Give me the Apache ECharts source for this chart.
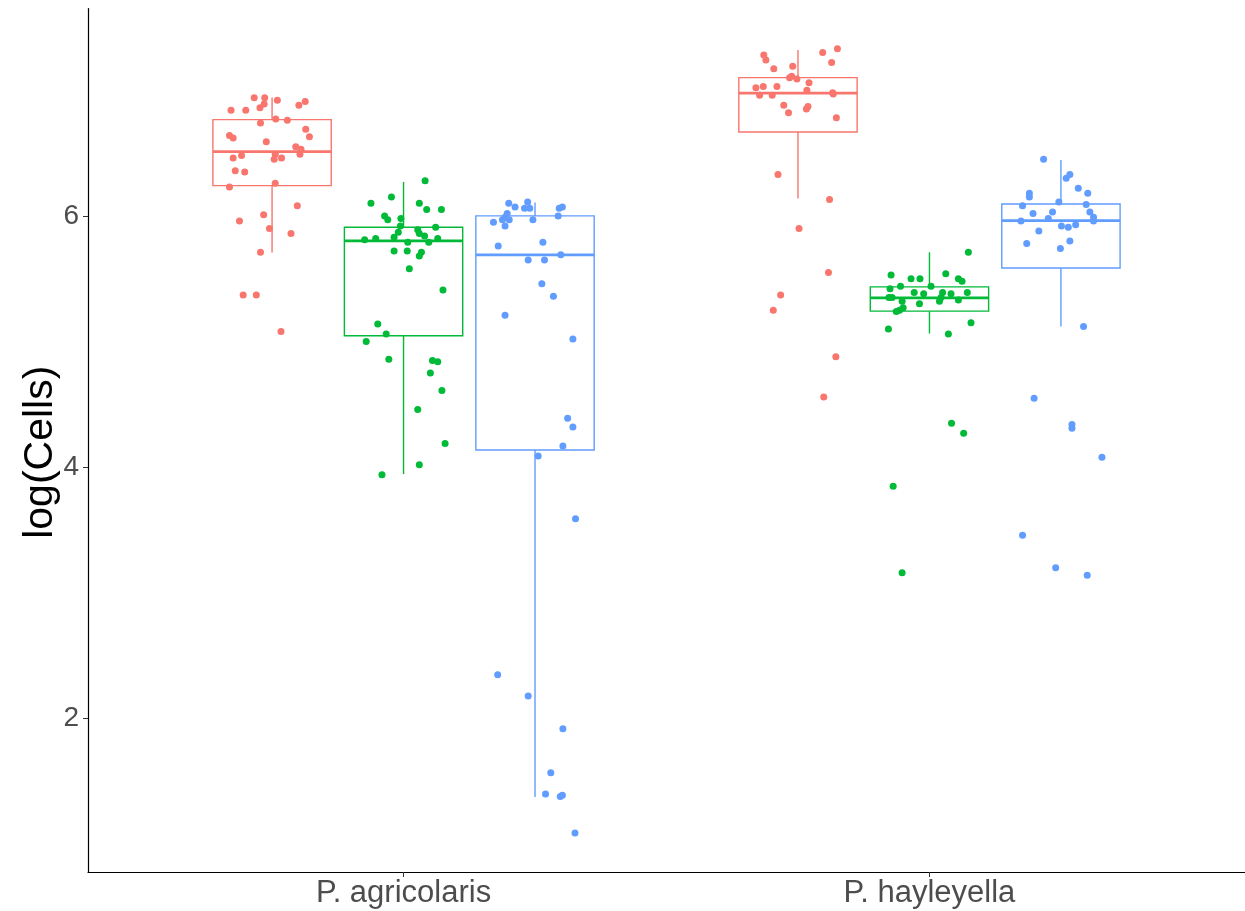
<!DOCTYPE html>
<html>
<head>
<meta charset="utf-8">
<script src="https://cdn.jsdelivr.net/npm/echarts@6/dist/echarts.min.js"></script>
<style>
html, body { margin: 0; padding: 0; background: #fff; }
#chart { width: 1245px; height: 911px; }
</style>
</head>
<body>
<div id="chart"></div>
<script>
const categories = ['P. agricolaris', 'P. hayleyella'];
const yTicks = [2, 4, 6];
const colors = ['#F8766D', '#00BA38', '#619CFF'];
const dodge = [-0.25, 0, 0.25];

// box stats per category: [lower whisker, q1, median, q3, upper whisker]
const redBox = [[5.708, 6.241, 6.511, 6.766, 6.941], [6.138, 6.668, 6.976, 7.100, 7.320]];
const greenBox = [[3.946, 5.046, 5.801, 5.910, 6.270], [5.064, 5.242, 5.348, 5.435, 5.711]];
const blueBox = [[1.377, 4.137, 5.690, 6.000, 6.106], [5.120, 5.586, 5.963, 6.095, 6.445]];

// raw points (value) and their horizontal jitter (in category units)
const redAgri = [6.94, 6.94, 6.92, 6.91, 6.88, 6.84, 6.84, 6.86, 6.89, 6.77, 6.76, 6.74, 6.69, 6.64, 6.62, 6.63, 6.59, 6.55, 6.53, 6.49, 6.49, 6.45, 6.46, 6.48, 6.46, 6.36, 6.35, 6.23, 6.26, 6.08, 6.01, 5.96, 5.90, 5.86, 5.71, 5.37, 5.37, 5.08];
const redAgriJit = [-0.034, -0.014, 0.010, 0.063, 0.051, -0.078, -0.050, -0.023, -0.015, 0.007, 0.029, -0.022, 0.064, -0.081, -0.074, 0.071, -0.011, 0.045, 0.055, 0.053, 0.006, 0.004, 0.018, -0.058, -0.074, -0.070, -0.052, -0.081, 0.006, 0.048, -0.016, -0.062, -0.005, 0.036, -0.022, -0.055, -0.030, 0.017];
const greenAgri = [6.28, 6.15, 6.10, 6.10, 6.05, 6.05, 6.00, 5.97, 5.98, 5.92, 5.87, 5.91, 5.89, 5.86, 5.84, 5.81, 5.82, 5.83, 5.79, 5.79, 5.82, 5.72, 5.72, 5.71, 5.68, 5.58, 5.41, 5.14, 5.06, 5.00, 4.86, 4.85, 4.84, 4.75, 4.61, 4.46, 4.19, 4.02, 3.94];
const greenAgriJit = [0.041, -0.023, -0.062, 0.030, 0.044, 0.072, -0.036, -0.030, -0.005, -0.006, -0.010, 0.061, 0.027, 0.030, 0.040, -0.074, -0.053, -0.018, 0.008, 0.048, 0.065, -0.018, 0.007, 0.034, 0.030, 0.011, 0.075, -0.049, -0.033, -0.071, -0.028, 0.055, 0.065, 0.051, 0.073, 0.027, 0.079, 0.030, -0.041];
const blueAgri = [6.10, 6.07, 6.11, 6.06, 6.06, 6.06, 6.07, 6.02, 5.99, 5.97, 5.97, 5.95, 5.92, 5.97, 6.00, 5.76, 5.79, 5.69, 5.65, 5.65, 5.46, 5.36, 5.21, 5.02, 4.39, 4.32, 4.17, 4.09, 3.59, 2.35, 2.18, 1.92, 1.57, 1.40, 1.38, 1.39, 1.09];
const blueAgriJit = [-0.050, -0.038, -0.014, -0.020, -0.010, 0.046, 0.052, -0.053, -0.057, -0.062, -0.049, -0.079, -0.057, -0.004, 0.044, -0.070, 0.015, 0.049, -0.013, 0.018, 0.013, 0.035, -0.057, 0.072, 0.062, 0.072, 0.053, 0.006, 0.077, -0.071, -0.013, 0.053, 0.030, 0.020, 0.048, 0.052, 0.076];

const redHay = [7.28, 7.24, 7.17, 7.19, 7.30, 7.33, 7.22, 7.10, 7.11, 7.09, 7.06, 7.02, 7.03, 7.03, 6.96, 6.96, 7.00, 6.98, 6.97, 6.88, 6.82, 6.85, 6.87, 6.78, 6.33, 6.13, 5.90, 5.55, 5.37, 5.25, 4.88, 4.56];
const redHayJit = [-0.065, -0.061, -0.046, -0.010, 0.047, 0.075, 0.064, -0.016, -0.012, -0.002, 0.021, -0.080, -0.066, -0.040, -0.073, -0.049, 0.017, 0.066, 0.067, -0.027, -0.018, 0.016, 0.019, 0.073, -0.038, 0.060, 0.002, 0.058, -0.033, -0.047, 0.072, 0.049];
const greenHay = [5.71, 5.53, 5.50, 5.50, 5.54, 5.50, 5.48, 5.42, 5.44, 5.44, 5.35, 5.35, 5.32, 5.39, 5.38, 5.39, 5.38, 5.39, 5.35, 5.32, 5.33, 5.30, 5.27, 5.25, 5.24, 5.10, 5.15, 5.06, 4.35, 4.27, 3.85, 3.16];
const greenHayJit = [0.074, -0.073, -0.035, -0.018, 0.031, 0.055, 0.062, -0.075, -0.055, 0.003, -0.077, -0.071, -0.052, -0.029, -0.011, 0.025, 0.041, 0.072, 0.022, 0.019, 0.055, -0.019, -0.050, -0.057, -0.063, -0.078, 0.079, 0.036, 0.042, 0.065, -0.069, -0.052];
const blueHay = [6.45, 6.30, 6.33, 6.18, 6.15, 6.22, 6.18, 6.11, 6.08, 6.09, 6.02, 6.03, 6.03, 5.99, 5.96, 5.96, 5.98, 5.92, 5.91, 5.93, 5.88, 5.78, 5.80, 5.74, 5.12, 4.55, 4.34, 4.31, 4.08, 3.46, 3.20, 3.14];
const blueHayJit = [-0.033, 0.010, 0.017, -0.060, -0.060, 0.033, 0.051, -0.004, -0.073, 0.048, -0.053, -0.016, 0.055, 0.062, 0.062, -0.076, -0.024, 0.001, 0.014, 0.028, -0.042, -0.065, 0.017, -0.001, 0.043, -0.051, 0.021, 0.021, 0.078, -0.073, -0.010, 0.050];

const boxes = [redBox, greenBox, blueBox];
const points = [
    [[redAgri, redAgriJit], [redHay, redHayJit]],
    [[greenAgri, greenAgriJit], [greenHay, greenHayJit]],
    [[blueAgri, blueAgriJit], [blueHay, blueHayJit]]
];

const halfBox = 0.1125;

function boxRenderer(color) {
    return function (params, api) {
        const x = api.value(0);
        const lo = api.coord([x, api.value(1)]);
        const q1 = api.coord([x - halfBox, api.value(2)]);
        const ml = api.coord([x - halfBox, api.value(3)]);
        const mr = api.coord([x + halfBox, api.value(3)]);
        const q3 = api.coord([x + halfBox, api.value(4)]);
        const hi = api.coord([x, api.value(5)]);
        const line = { stroke: color, lineWidth: 1.4 };
        return {
            type: 'group',
            children: [
                { type: 'line', shape: { x1: lo[0], y1: lo[1], x2: lo[0], y2: q1[1] }, style: line },
                { type: 'line', shape: { x1: hi[0], y1: hi[1], x2: hi[0], y2: q3[1] }, style: line },
                {
                    type: 'rect',
                    shape: { x: q1[0], y: q3[1], width: q3[0] - q1[0], height: q1[1] - q3[1] },
                    style: { fill: '#fff', stroke: color, lineWidth: 1.4 }
                },
                { type: 'line', shape: { x1: ml[0], y1: ml[1], x2: mr[0], y2: mr[1] }, style: { stroke: color, lineWidth: 2.8 } }
            ]
        };
    };
}

let series = [];
boxes.forEach((box, g) => {
    series.push({
        type: 'custom',
        renderItem: boxRenderer(colors[g]),
        encode: { x: 0, y: [1, 2, 3, 4, 5] },
        data: box.map((s, c) => [c + 1 + dodge[g]].concat(s)),
        z: 1,
        silent: true
    });
});
points.forEach((perCat, g) => {
    let data = [];
    perCat.forEach(([vals, jit], c) => {
        vals.forEach((v, i) => data.push([c + 1 + dodge[g] + jit[i], v]));
    });
    series.push({
        type: 'scatter',
        data: data,
        symbolSize: 7,
        itemStyle: { color: colors[g], opacity: 1 },
        z: 3,
        silent: true
    });
});

let chart = echarts.init(document.getElementById('chart'));
chart.setOption({
    animation: false,
    backgroundColor: '#fff',
    grid: { left: 88, right: 0, top: 8.5, bottom: 39 },
    xAxis: {
        type: 'value',
        min: 0.4,
        max: 2.6,
        splitLine: { show: false },
        axisLine: { show: true, onZero: false, lineStyle: { color: '#000', width: 1.2 } },
        axisTick: { show: true, customValues: [1, 2], length: 5, lineStyle: { color: '#333' } },
        axisLabel: {
            customValues: [1, 2],
            formatter: v => categories[Math.round(v) - 1],
            fontFamily: 'Liberation Sans',
            fontSize: 31,
            color: '#4D4D4D',
            margin: 6
        }
    },
    yAxis: {
        type: 'value',
        min: 0.78,
        max: 7.65,
        splitLine: { show: false },
        axisLine: { show: true, onZero: false, lineStyle: { color: '#000', width: 1.2 } },
        axisTick: { show: true, customValues: yTicks, length: 5, lineStyle: { color: '#333' } },
        axisLabel: {
            customValues: yTicks,
            fontFamily: 'Liberation Sans',
            fontSize: 28,
            color: '#4D4D4D',
            margin: 9
        },
        name: 'log(Cells)',
        nameLocation: 'middle',
        nameGap: 27,
        nameMoveOverlap: false,
        nameTextStyle: { fontFamily: 'Liberation Sans', fontSize: 41, color: '#000', padding: [0, 24, 0, 0] }
    },
    series: series
});
</script>
</body>
</html>
